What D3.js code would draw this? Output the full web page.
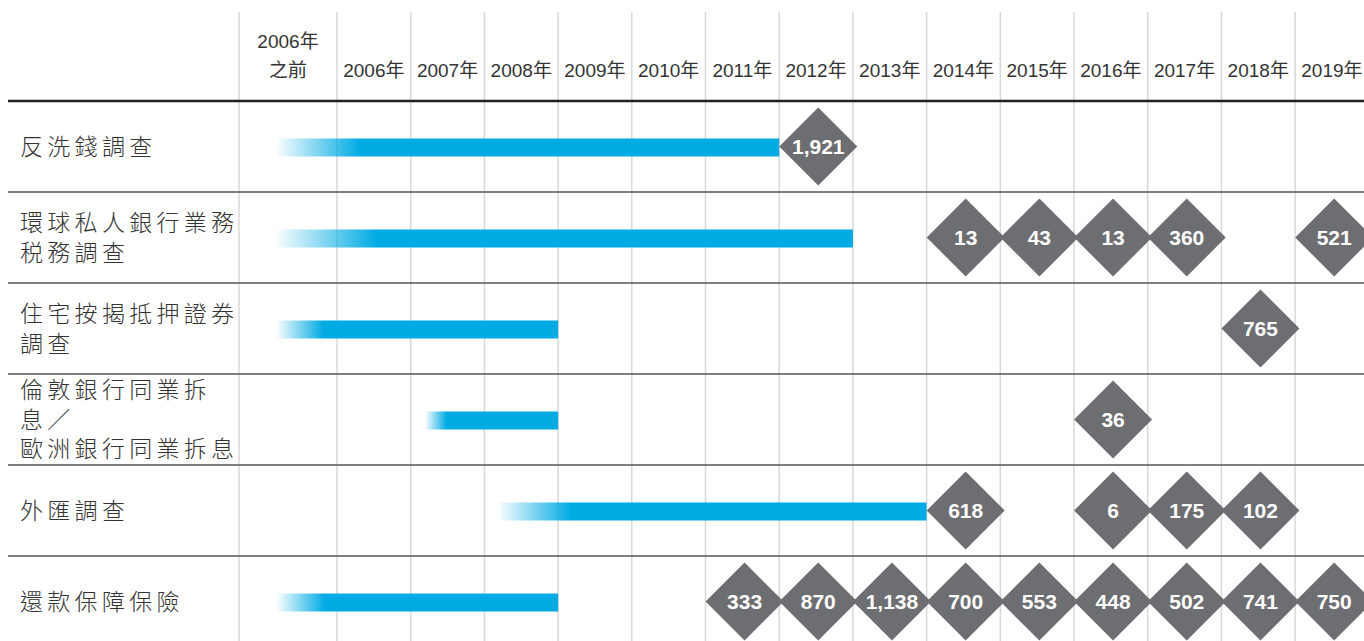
<!DOCTYPE html>
<html>
<head>
<meta charset="utf-8">
<script src="https://cdn.jsdelivr.net/npm/d3@7"></script>
<style>
  body { margin: 0; background: #fff; }
  svg { display: block; }
  .colLabel { font-family: "Liberation Sans", "Noto Sans CJK TC", sans-serif; font-size: 19px; fill: #333; }
  .catLabel { font-family: "Noto Sans CJK TC", sans-serif; font-weight: 300; font-size: 23px; letter-spacing: 4.3px; fill: #333; }
  .val { font-family: "Liberation Sans", Arial, sans-serif; font-weight: bold; font-size: 21px; fill: #fff; }
</style>
</head>
<body>
<div id="chart"></div>
<script>
// column headers (years)
var colYears = [2005, 2006, 2007, 2008, 2009, 2010, 2011, 2012, 2013, 2014, 2015, 2016, 2017, 2018, 2019];
var colLabels = [["2006年", "之前"], "2006年", "2007年", "2008年", "2009年", "2010年", "2011年",
                 "2012年", "2013年", "2014年", "2015年", "2016年", "2017年", "2018年", "2019年"];

// investigations (rows)
var categories = [
  ["反洗錢調查"],
  ["環球私人銀行業務", "税務調查"],
  ["住宅按揭抵押證券", "調查"],
  ["倫敦銀行同業拆", "息／", "歐洲銀行同業拆息"],
  ["外匯調查"],
  ["還款保障保險"]
];

// bar periods (year fractions): fade start, solid from, end
var barStart = [2005.39, 2005.39, 2005.39, 2007.2, 2008.2, 2005.39];
var barSolid = [2006.31, 2006.54, 2005.86, 2007.49, 2009.17, 2005.88];
var barEnd   = [2012, 2013, 2009, 2009, 2014, 2009];

// diamond values by row: [year, value]
var rowValues = [
  [[2012, 1921]],
  [[2014, 13], [2015, 43], [2016, 13], [2017, 360], [2019, 521]],
  [[2018, 765]],
  [[2016, 36]],
  [[2014, 618], [2016, 6], [2017, 175], [2018, 102]],
  [[2011, 333], [2012, 870], [2013, 1138], [2014, 700], [2015, 553], [2016, 448], [2017, 502], [2018, 741], [2019, 750]]
];

var W = 1364, H = 641;
var svg = d3.select("#chart").append("svg").attr("width", W).attr("height", H);

// first column is wider than the year columns
var x = d3.scaleLinear().domain([2005, 2006, 2020]).range([239, 337, 1368.8]);
var y = d3.scaleBand().domain(d3.range(categories.length)).range([101, 101 + 91 * categories.length]);

var fmt = d3.format(",");
var blue = "#00abe4";

// vertical grid lines
svg.append("g").selectAll("line")
  .data(colYears)
  .enter().append("line")
  .attr("x1", d => x(d)).attr("x2", d => x(d))
  .attr("y1", 12).attr("y2", H)
  .attr("stroke", "#d8d8d8").attr("stroke-width", 1.5);

// column labels
var cl = svg.append("g").selectAll("text")
  .data(colYears)
  .enter().append("text")
  .attr("class", "colLabel")
  .attr("text-anchor", "middle")
  .attr("x", d => (x(d) + x(d + 1)) / 2);
cl.each(function(d, i) {
  var lab = colLabels[i];
  var t = d3.select(this);
  if (Array.isArray(lab)) {
    lab.forEach((s, k) => t.append("tspan").attr("x", (x(d) + x(d + 1)) / 2).attr("y", 48 + k * 29).text(s));
  } else {
    t.attr("y", 77).text(lab);
  }
});

// gradients for the bar fade-in
var defs = svg.append("defs");
barStart.forEach((s, i) => {
  var g = defs.append("linearGradient")
    .attr("id", "fade" + i)
    .attr("gradientUnits", "userSpaceOnUse")
    .attr("x1", x(s)).attr("x2", x(barSolid[i]))
    .attr("y1", 0).attr("y2", 0);
  g.append("stop").attr("offset", 0).attr("stop-color", blue).attr("stop-opacity", 0.03);
  g.append("stop").attr("offset", 1).attr("stop-color", blue).attr("stop-opacity", 1);
});

// bars
svg.append("g").selectAll("rect")
  .data(barStart)
  .enter().append("rect")
  .attr("x", d => x(d))
  .attr("width", (d, i) => x(barEnd[i]) - x(d))
  .attr("y", (d, i) => y(i) + y.bandwidth() / 2 - 8)
  .attr("height", 18)
  .attr("fill", (d, i) => "url(#fade" + i + ")");

// row separators
svg.append("g").selectAll("line")
  .data(d3.range(1, categories.length))
  .enter().append("line")
  .attr("x1", 8).attr("x2", W)
  .attr("y1", d => y(d)).attr("y2", d => y(d))
  .attr("stroke", "#555").attr("stroke-width", 1.5);

// header line
svg.append("line")
  .attr("x1", 8).attr("x2", W)
  .attr("y1", y(0)).attr("y2", y(0))
  .attr("stroke", "#231f20").attr("stroke-width", 2.5);

// category labels
svg.append("g").selectAll("text")
  .data(categories)
  .enter().append("text")
  .attr("class", "catLabel")
  .each(function(lines, i) {
    var cy = y(i) + y.bandwidth() / 2;
    var first = cy - (lines.length - 1) * 29.5 / 2;
    lines.forEach((s, k) => {
      d3.select(this).append("tspan")
        .attr("x", 20)
        .attr("y", first + k * 29.5)
        .attr("dy", "0.36em")
        .text(s);
    });
  });

// diamonds
var r = 39;
var dg = svg.append("g").selectAll("g.row")
  .data(rowValues)
  .enter().append("g")
  .attr("transform", (d, i) => `translate(0, ${y(i) + y.bandwidth() / 2})`);

var dm = dg.selectAll("g.dm")
  .data(d => d)
  .enter().append("g")
  .attr("transform", d => `translate(${x(d[0] + 0.53)}, 0)`);

dm.append("path")
  .attr("d", `M0,${-r}L${r},0L0,${r}L${-r},0Z`)
  .attr("fill", "#6d6e71");

dm.append("text")
  .attr("class", "val")
  .attr("text-anchor", "middle")
  .attr("dy", "0.36em")
  .text(d => fmt(d[1]));
</script>
</body>
</html>
